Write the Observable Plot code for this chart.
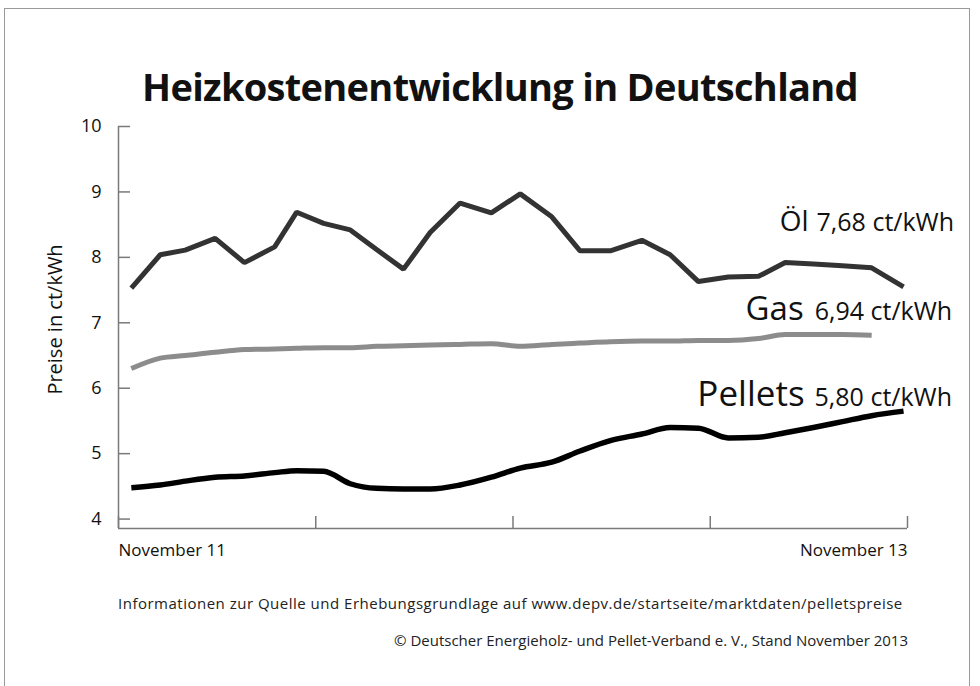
<!DOCTYPE html>
<html><head><meta charset="utf-8">
<script src="https://cdn.jsdelivr.net/npm/d3@7"></script>
<script src="https://cdn.jsdelivr.net/npm/@observablehq/plot@0.6"></script>
<style>
body{margin:0;background:#fff;}
#wrap{position:relative;width:980px;height:686px;overflow:hidden;font-family:"Open Sans",sans-serif;color:#111;background:#fff}
#frame{position:absolute;left:4px;top:8px;width:966px;height:720px;border:1.5px solid #9a9a9a;box-sizing:border-box}
#title{position:absolute;left:20px;width:960px;top:67px;text-align:center;font-size:38px;font-weight:700;line-height:38px;color:#111;letter-spacing:-0.7px}
#chart{position:absolute;left:0;top:110px;}
.note{position:absolute;font-size:15px;line-height:15px;color:#222;white-space:nowrap}
#note1{left:118px;top:596px;letter-spacing:0.5px}
#note2{right:72px;top:633px}
g[aria-label="series value"] text{letter-spacing:2px}
</style>
</head><body>
<div id="wrap">
  <div id="frame"></div>
  <div id="title"></div>
  <div id="chart"></div>
  <div class="note" id="note1"></div>
  <div class="note" id="note2"></div>
</div>
<script>
// ---- data ----
const titleText = "Heizkostenentwicklung in Deutschland";
const yLabel = "Preise in ct/kWh";
const note1Text = "Informationen zur Quelle und Erhebungsgrundlage auf www.depv.de/startseite/marktdaten/pelletspreise";
const note2Text = "© Deutscher Energieholz- und Pellet-Verband e. V., Stand November 2013";

// x position of each observation, in months after November 2011
const months = [0.39,1.27,2.03,2.94,3.83,4.75,5.42,6.24,7.05,7.85,8.67,9.48,10.39,11.34,12.22,13.18,14.04,14.96,15.92,16.78,17.64,18.55,19.47,20.28,21.14,22.02,22.91,23.88];
const oil = [7.53,8.04,8.11,8.29,7.92,8.16,8.69,8.52,8.42,8.12,7.82,8.38,8.83,8.68,8.97,8.62,8.10,8.10,8.26,8.04,7.63,7.70,7.71,7.92,7.90,7.87,7.84,7.55];
const gas = [6.30,6.46,6.50,6.55,6.59,6.60,6.61,6.62,6.62,6.64,6.65,6.66,6.67,6.68,6.64,6.67,6.69,6.71,6.72,6.72,6.73,6.73,6.76,6.82,6.82,6.82,6.81];
const pellets = [4.48,4.52,4.58,4.64,4.66,4.71,4.74,4.73,4.54,4.47,4.46,4.46,4.52,4.64,4.78,4.87,5.04,5.20,5.30,5.40,5.39,5.24,5.25,5.32,5.40,5.49,5.58,5.65];

const seriesNames = ["Öl", "Gas", "Pellets"];
const latestLabels = ["7,68 ct/kWh", "6,94 ct/kWh", "5,80 ct/kWh"];
const yTicks = [4, 5, 6, 7, 8, 9, 10];
const xTicks = [0, 6, 12, 18, 24];
const xTickLabels = ["November 11", "November 13"];
const yDomain = [3.856, 10];

// ---- build ----
document.getElementById("title").textContent = titleText;
document.getElementById("note1").textContent = note1Text;
document.getElementById("note2").textContent = note2Text;

const rows = (vals) => vals.map((v, i) => ({m: months[i], v}));
const oilRows = rows(oil), gasRows = rows(gas), pelRows = rows(pellets);

const axisColor = "#7a7a7a";
const labelCfg = [
  {rows: oilRows, name: seriesNames[0], value: latestLabels[0], nameSize: 28, valSize: 25, nameDx: -95, valDx: -87, dy: -56},
  {rows: gasRows, name: seriesNames[1], value: latestLabels[1], nameSize: 33, valSize: 25, nameDx: -68, valDx: -57, dy: -15},
  {rows: pelRows, name: seriesNames[2], value: latestLabels[2], nameSize: 35, valSize: 25, nameDx: -99, valDx: -89, dy: -5}
];

const labelMarks = labelCfg.flatMap(c => [
  Plot.text([c.rows[c.rows.length - 1]], {x: "m", y: "v", text: () => c.name, textAnchor: "end", lineAnchor: "bottom",
    dx: c.nameDx, dy: c.dy, fontSize: c.nameSize, fill: "#111", ariaLabel: "series name"}),
  Plot.text([c.rows[c.rows.length - 1]], {x: "m", y: "v", text: () => c.value, textAnchor: "start", lineAnchor: "bottom",
    dx: c.valDx, dy: c.dy, fontSize: c.valSize, fill: "#111", ariaLabel: "series value"})
]);

const chart = Plot.plot({
  width: 980,
  height: 460,
  marginLeft: 118,
  marginRight: 73,
  marginTop: 16,
  marginBottom: 42,
  x: {domain: [xTicks[0], xTicks[xTicks.length - 1]]},
  y: {domain: yDomain},
  style: {fontFamily: "Open Sans, sans-serif", fontSize: "17px", color: "#111", background: "transparent", overflow: "visible"},
  marks: [
    Plot.axisY({ticks: yTicks, tickSize: -12, tickPadding: 29, tickFormat: d => String(d), fontSize: 18,
      stroke: axisColor, strokeWidth: 1.5, fill: "#111", label: null}),
    Plot.axisX({ticks: xTicks, tickSize: -12, tickFormat: () => "", stroke: axisColor, strokeWidth: 1.5, label: null}),
    Plot.ruleX([xTicks[0]], {stroke: axisColor, strokeWidth: 1.5}),
    Plot.ruleY([yDomain[0]], {stroke: axisColor, strokeWidth: 1.5}),
    Plot.text([{m: xTicks[0], t: xTickLabels[0]}], {x: "m", text: "t", frameAnchor: "bottom", textAnchor: "start",
      lineAnchor: "middle", dy: 22, fontSize: 17, fill: "#111"}),
    Plot.text([{m: xTicks[xTicks.length - 1], t: xTickLabels[1]}], {x: "m", text: "t", frameAnchor: "bottom", textAnchor: "end",
      lineAnchor: "middle", dy: 22, fontSize: 17, fill: "#111"}),
    Plot.text([yLabel], {frameAnchor: "left", rotate: -90, dx: -63, dy: -8, fontSize: 20, textAnchor: "middle",
      lineAnchor: "middle", fill: "#111"}),
    Plot.line(gasRows, {x: "m", y: "v", stroke: "#8c8c8c", strokeWidth: 5, curve: "monotone-x", strokeLinejoin: "round", strokeLinecap: "butt"}),
    Plot.line(pelRows, {x: "m", y: "v", stroke: "#000", strokeWidth: 5.5, curve: "monotone-x", strokeLinejoin: "round", strokeLinecap: "butt"}),
    Plot.line(oilRows, {x: "m", y: "v", stroke: "#333", strokeWidth: 5, strokeLinejoin: "miter", strokeLinecap: "butt"}),
    ...labelMarks
  ]
});
document.getElementById("chart").appendChild(chart);
</script>
</body></html>
